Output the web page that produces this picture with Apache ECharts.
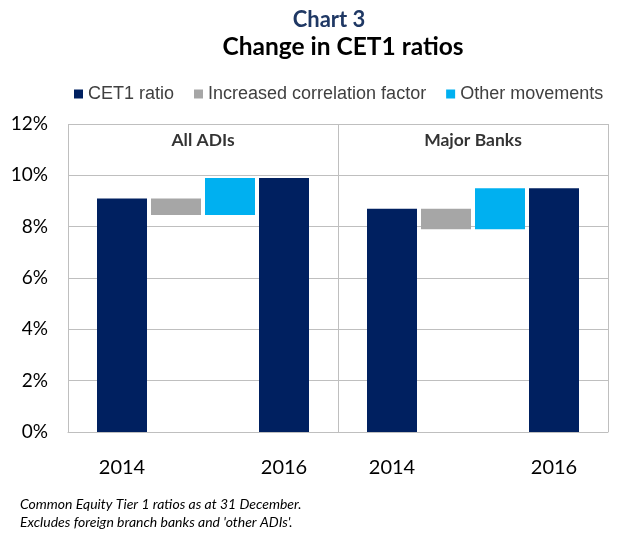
<!DOCTYPE html>
<html><head><meta charset="utf-8">
<script src="https://cdn.jsdelivr.net/npm/echarts@6/dist/echarts.min.js"></script>
<style>html,body{margin:0;padding:0;background:#fff}#c{width:627px;height:534px}</style>
</head><body><div id="c"></div>
<script>
const panels = ['All ADIs', 'Major Banks'];
const years = ['2014', '2016'];
const cet1Start = [9.1, 8.7];
const corrFactor = [-0.65, -0.8];
const otherMov = [1.45, 1.6];
const cet1End = [9.9, 9.5];
const yTicks = [0, 2, 4, 6, 8, 10, 12];

// 5 slots per panel, bars on slots 1..4, plus a closing slot
const cats = [], cet1 = [], base = [], corr = [], other = [];
panels.forEach((p, i) => {
  cats.push('', years[0], '', '', years[1]);
  cet1.push('-', cet1Start[i], '-', '-', cet1End[i]);
  const low = cet1Start[i] + corrFactor[i];
  base.push('-', '-', low, low, '-');
  corr.push('-', '-', -corrFactor[i], '-', '-');
  other.push('-', '-', '-', otherMov[i], '-');
});
cats.push(''); cet1.push('-'); base.push('-'); corr.push('-'); other.push('-');

const calibri = 'Lato, "Open Sans", sans-serif';
const chart = echarts.init(document.getElementById('c'));
chart.setOption({
  animation: false,
  title: [
    {text: 'Chart 3', left: 324, top: 4, textAlign: 'center',
     textStyle: {fontFamily: calibri, fontSize: 22, fontWeight: 'bold', color: '#1F3864'}},
    {text: 'Change in CET1 ratios', left: 338, top: 30, textAlign: 'center',
     textStyle: {fontFamily: calibri, fontSize: 24.5, fontWeight: 'bold', color: '#000'}}
  ],
  legend: {
    top: 80, left: 69, icon: 'rect', itemWidth: 9, itemHeight: 9, itemGap: 20,
    data: ['CET1 ratio', 'Increased correlation factor', 'Other movements'],
    textStyle: {fontFamily: '"Liberation Sans", Arial, sans-serif', fontSize: 18, color: '#404040'}
  },
  grid: {left: 68, right: 19, top: 124, bottom: 102},
  xAxis: [{
    type: 'category', data: cats, boundaryGap: false,
    axisTick: {show: false},
    axisLine: {lineStyle: {color: '#BFBFBF'}},
    axisLabel: {interval: 0, margin: 26, fontFamily: calibri, fontSize: 20, color: '#000'},
    splitLine: {show: true, interval: (i) => i % 5 === 0, lineStyle: {color: '#BFBFBF'}}
  }, {
    type: 'value', min: 0, max: 10, show: false
  }],
  yAxis: {
    type: 'value', min: yTicks[0], max: yTicks[yTicks.length - 1], interval: 2,
    axisLine: {show: false}, axisTick: {show: false},
    axisLabel: {formatter: '{value}%', margin: 20, fontFamily: calibri, fontSize: 19, color: '#000'},
    splitLine: {lineStyle: {color: '#BFBFBF'}}
  },
  series: [
    {name: 'CET1 ratio', type: 'bar', stack: 'w', data: cet1, barWidth: 50,
     itemStyle: {color: '#002060'}},
    {name: 'base', type: 'bar', stack: 'w', data: base, barWidth: 50,
     itemStyle: {color: 'rgba(0,0,0,0)'}, silent: true},
    {name: 'Increased correlation factor', type: 'bar', stack: 'w', data: corr, barWidth: 50,
     itemStyle: {color: '#A6A6A6'}},
    {name: 'Other movements', type: 'bar', stack: 'w', data: other, barWidth: 50,
     itemStyle: {color: '#00B0F0'}},
    {name: 'headers', type: 'scatter', xAxisIndex: 1, symbolSize: 0,
     data: panels.map((p, i) => ({value: [2.5 + 5 * i, 11.37], name: p})),
     label: {show: true, position: 'inside', formatter: (d) => d.name,
       fontFamily: calibri, fontSize: 17.5, fontWeight: 'bold', color: '#000'}}
  ],
  graphic: [{
    type: 'text', left: 20, top: 495,
    style: {text: "Common Equity Tier 1 ratios as at 31 December.\nExcludes foreign branch banks and 'other ADIs'.",
      font: 'italic 14px Lato, "Open Sans", sans-serif', fill: '#000', lineHeight: 18}
  }]
});
</script></body></html>
